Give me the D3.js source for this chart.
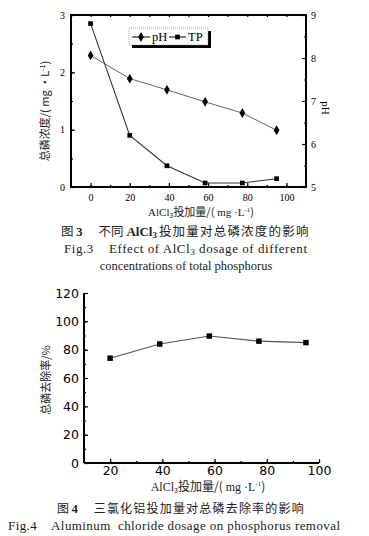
<!DOCTYPE html>
<html><head><meta charset="utf-8">
<script src="https://cdn.jsdelivr.net/npm/d3@7/dist/d3.min.js"></script>
<style>
body{margin:0;background:#fff;}
svg{display:block;}
</style></head>
<body>
<svg id="c" width="369" height="536"></svg>
<script>
// ---- Data (Fig.3) ----
const dosage1 = [0, 20, 39, 58.5, 77.5, 95];
const tpValues = [2.85, 0.9, 0.37, 0.07, 0.07, 0.145];
const phValues = [8.06, 7.52, 7.26, 6.98, 6.72, 6.32];
const xTicks1 = [0, 20, 40, 60, 80, 100];
const yLeftTicks1 = [0, 1, 2, 3];
const yRightTicks1 = [5, 6, 7, 8, 9];
// ---- Data (Fig.4) ----
const dosage2 = [20, 39, 58, 77, 95];
const removal = [74, 84, 89.6, 86, 85];
const xTicks2 = [20, 40, 60, 80, 100];
const yTicks2 = [0, 20, 40, 60, 80, 100, 120];

const svg = d3.select("#c");
const serif = "'Liberation Serif','DejaVu Serif',serif";
const cjk = "'Noto Sans CJK SC','Liberation Serif',serif";
const sans = "'DejaVu Sans','Liberation Sans',sans-serif";

function styleAxis(sel, fs, ff){
  sel.select(".domain").remove();
  sel.selectAll(".tick line").attr("stroke","#000").attr("stroke-width",1.2);
  sel.selectAll(".tick text").attr("font-size",fs).attr("font-family",ff).attr("fill","#000");
}

// ================= Fig.3 =================
const L1 = 71, R1 = 306, T1 = 15, B1 = 187;
const x1 = d3.scaleLinear().domain([-10, 110]).range([L1, R1]);
const yl = d3.scaleLinear().domain([0, 3]).range([B1, T1]);
const yr = d3.scaleLinear().domain([5, 9]).range([B1, T1]);
const g1 = svg.append("g");

const minorX1 = d3.range(-10, 111, 10);
g1.append("g").attr("transform",`translate(0,${B1})`)
  .call(d3.axisBottom(x1).tickValues(minorX1).tickSize(-2).tickFormat(""))
  .call(s=>styleAxis(s,9,serif));
g1.append("g").attr("transform",`translate(0,${T1})`)
  .call(d3.axisTop(x1).tickValues(minorX1).tickSize(-2).tickFormat(""))
  .call(s=>styleAxis(s,9,serif));
g1.append("g").attr("transform",`translate(0,${B1})`)
  .call(d3.axisBottom(x1).tickValues(xTicks1).tickSize(-4).tickPadding(7))
  .call(s=>styleAxis(s,10,serif));
g1.append("g").attr("transform",`translate(${L1},0)`)
  .call(d3.axisLeft(yl).tickValues(d3.range(0,3.01,0.5)).tickSize(-2).tickFormat(""))
  .call(s=>styleAxis(s,9,serif));
g1.append("g").attr("transform",`translate(${L1},0)`)
  .call(d3.axisLeft(yl).tickValues(yLeftTicks1).tickSize(-4).tickPadding(6).tickFormat(d3.format("d")))
  .call(s=>styleAxis(s,10,serif));
g1.append("g").attr("transform",`translate(${R1},0)`)
  .call(d3.axisRight(yr).tickValues(d3.range(5,9.01,0.5)).tickSize(-2).tickFormat(""))
  .call(s=>styleAxis(s,9,serif));
g1.append("g").attr("transform",`translate(${R1},0)`)
  .call(d3.axisRight(yr).tickValues(yRightTicks1).tickSize(-4).tickPadding(5).tickFormat(d3.format("d")))
  .call(s=>styleAxis(s,10,serif));
g1.append("rect").attr("x",L1).attr("y",T1).attr("width",R1-L1).attr("height",B1-T1)
  .attr("fill","none").attr("stroke","#000").attr("stroke-width",2);

const ptsTP = dosage1.map((d,i)=>[d,tpValues[i]]);
const ptsPH = dosage1.map((d,i)=>[d,phValues[i]]);
g1.append("path").datum(ptsPH)
  .attr("d", d3.line().x(d=>x1(d[0])).y(d=>yr(d[1])))
  .attr("fill","none").attr("stroke","#666").attr("stroke-width",1);
g1.append("path").datum(ptsTP)
  .attr("d", d3.line().x(d=>x1(d[0])).y(d=>yl(d[1])))
  .attr("fill","none").attr("stroke","#333").attr("stroke-width",1.1);
const diamond = d3.symbol().type(d3.symbolDiamond).size(28);
const square = d3.symbol().type(d3.symbolSquare).size(22);
g1.selectAll(".ph").data(ptsPH).join("path")
  .attr("transform",d=>`translate(${x1(d[0])},${yr(d[1])})`).attr("d",diamond).attr("fill","#000");
g1.selectAll(".tp").data(ptsTP).join("path")
  .attr("transform",d=>`translate(${x1(d[0])},${yl(d[1])})`).attr("d",square).attr("fill","#000");

// legend
const lg = g1.append("g").attr("transform","translate(129,28)");
lg.append("rect").attr("x",3).attr("y",3).attr("width",79).attr("height",17).attr("fill","#000");
lg.append("rect").attr("x",0).attr("y",0).attr("width",79).attr("height",17).attr("fill","#fff")
  .attr("stroke","#888").attr("stroke-width",0.8).attr("stroke-dasharray","1,1");
lg.append("line").attr("x1",3).attr("x2",21).attr("y1",9).attr("y2",9).attr("stroke","#000");
lg.append("path").attr("transform","translate(12,9)").attr("d",diamond).attr("fill","#000");
lg.append("text").attr("x",23).attr("y",13).text("pH").attr("font-family",serif).attr("font-size",12.5);
lg.append("line").attr("x1",40).attr("x2",57).attr("y1",9).attr("y2",9).attr("stroke","#000");
lg.append("path").attr("transform","translate(48.5,9)").attr("d",square).attr("fill","#000");
lg.append("text").attr("x",59).attr("y",13).text("TP").attr("font-family",serif).attr("font-size",12.5);

// axis titles
const yt1 = g1.append("text").attr("transform","translate(49,111) rotate(-90)").attr("text-anchor","middle")
  .attr("font-family",cjk).attr("font-size",11).attr("fill","#222");
yt1.append("tspan").text("总磷浓度/( mg ·L");
yt1.append("tspan").attr("font-size",7).attr("dy",-4).text("-1");
yt1.append("tspan").attr("dy",4).text(")");
g1.append("text").attr("transform","translate(322,108) rotate(90)").attr("text-anchor","middle")
  .attr("font-family",serif).attr("font-size",11).text("pH");
const xl1 = g1.append("text").attr("x",201).attr("y",216).attr("text-anchor","middle")
  .attr("font-family",cjk).attr("font-size",11).attr("fill","#222");
xl1.append("tspan").attr("font-family",serif).text("AlCl");
xl1.append("tspan").attr("font-size",7).attr("dy",2).text("3");
xl1.append("tspan").attr("dy",-2).text("投加量/(");
xl1.append("tspan").attr("font-family",serif).text(" mg ·L");
xl1.append("tspan").attr("font-size",7).attr("dy",-4).attr("font-family",serif).text("-1");
xl1.append("tspan").attr("dy",4).text(")");

// captions
const c1 = g1.append("text").attr("x",61).attr("y",236).attr("font-size",12.5).attr("fill","#222").attr("font-family",cjk);
c1.append("tspan").text("图 ");
c1.append("tspan").attr("font-family",serif).attr("font-weight","bold").text("3");
c1.append("tspan").attr("dx",16).text("不同 ");
c1.append("tspan").attr("font-family",serif).attr("font-weight","bold").attr("font-size",13).text("AlCl");
c1.append("tspan").attr("font-family",serif).attr("font-weight","bold").attr("font-size",9).attr("dy",2).text("3");
c1.append("tspan").attr("dy",-2).attr("dx",2).attr("letter-spacing",1.2).text("投加量对总磷浓度的影响");
const f3 = g1.append("text").attr("x",64).attr("y",253).attr("font-family",serif)
  .attr("font-size",13).attr("fill","#222").attr("xml:space","preserve");
f3.append("tspan").text("Fig.3    Effect of AlCl");
f3.append("tspan").attr("font-size",9).attr("dy",2).text("3");
f3.append("tspan").attr("dy",-2).text(" dosage of different");
f3.attr("textLength",243).attr("lengthAdjust","spacing");
g1.append("text").attr("x",186).attr("y",270).attr("text-anchor","middle").attr("font-family",serif)
  .attr("font-size",12.5).attr("fill","#222").text("concentrations of total phosphorus");

// ================= Fig.4 =================
const L2 = 84, R2 = 319, T2 = 293, B2 = 463;
const x2 = d3.scaleLinear().domain([10, 100]).range([L2, R2]);
const y2 = d3.scaleLinear().domain([0, 120]).range([B2, T2]);
const g2 = svg.append("g");
g2.append("g").attr("transform",`translate(0,${B2})`)
  .call(d3.axisBottom(x2).tickValues(d3.range(10,101,10)).tickSize(-2).tickFormat(""))
  .call(s=>styleAxis(s,12,sans));
g2.append("g").attr("transform",`translate(0,${B2})`)
  .call(d3.axisBottom(x2).tickValues(xTicks2).tickSize(-4).tickPadding(3))
  .call(s=>styleAxis(s,12.5,sans));
g2.append("g").attr("transform",`translate(${L2},0)`)
  .call(d3.axisLeft(y2).tickValues(d3.range(0,121,10)).tickSize(-2).tickFormat(""))
  .call(s=>styleAxis(s,12,sans));
g2.append("g").attr("transform",`translate(${L2},0)`)
  .call(d3.axisLeft(y2).tickValues(yTicks2).tickSize(-4).tickPadding(5))
  .call(s=>styleAxis(s,12.5,sans));
g2.append("line").attr("x1",L2).attr("x2",L2).attr("y1",T2).attr("y2",B2).attr("stroke","#000").attr("stroke-width",2);
g2.append("line").attr("x1",L2).attr("x2",R2).attr("y1",B2).attr("y2",B2).attr("stroke","#000").attr("stroke-width",2);

const ptsR = dosage2.map((d,i)=>[d,removal[i]]);
g2.append("path").datum(ptsR)
  .attr("d", d3.line().x(d=>x2(d[0])).y(d=>y2(d[1])))
  .attr("fill","none").attr("stroke","#555").attr("stroke-width",1.1);
g2.selectAll(".r").data(ptsR).join("path")
  .attr("transform",d=>`translate(${x2(d[0])},${y2(d[1])})`)
  .attr("d",d3.symbol().type(d3.symbolSquare).size(30)).attr("fill","#000");

g2.append("text").attr("transform","translate(50,380) rotate(-90)").attr("text-anchor","middle")
  .attr("font-family",cjk).attr("font-size",11).attr("fill","#222").text("总磷去除率/%");
const xl2 = g2.append("text").attr("x",208).attr("y",491).attr("text-anchor","middle")
  .attr("font-family",cjk).attr("font-size",12).attr("fill","#222");
xl2.append("tspan").attr("font-family",serif).text("AlCl");
xl2.append("tspan").attr("font-size",7).attr("dy",2).text("3");
xl2.append("tspan").attr("dy",-2).text("投加量/(");
xl2.append("tspan").attr("font-family",serif).text(" mg ·L");
xl2.append("tspan").attr("font-size",7).attr("dy",-5).attr("font-family",serif).text("-1");
xl2.append("tspan").attr("dy",5).text(")");

const c2 = g2.append("text").attr("x",57).attr("y",513).attr("font-size",12).attr("fill","#222").attr("font-family",cjk);
c2.append("tspan").text("图 ");
c2.append("tspan").attr("font-family",serif).attr("font-weight","bold").text("4");
c2.append("tspan").attr("dx",16).attr("letter-spacing",1.2).text("三氯化铝投加量对总磷去除率的影响");
g2.append("text").attr("x",8).attr("y",530).attr("font-family",serif)
  .attr("font-size",13).attr("fill","#222").attr("xml:space","preserve")
  .attr("textLength",332).attr("lengthAdjust","spacing")
  .text("Fig.4    Aluminum  chloride dosage on phosphorus removal");
</script>
</body></html>
